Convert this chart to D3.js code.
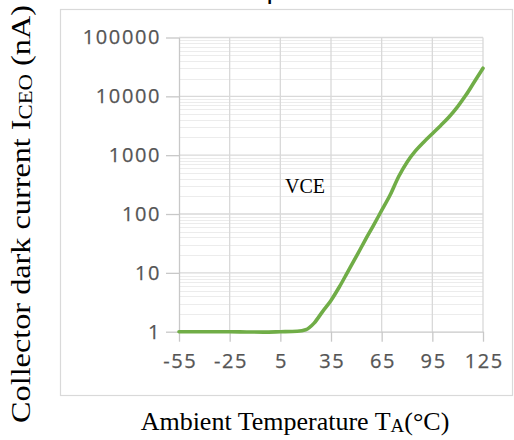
<!DOCTYPE html>
<html>
<head>
<meta charset="utf-8">
<script src="https://cdn.jsdelivr.net/npm/d3@7"></script>
<style>
  html, body { margin: 0; padding: 0; background: #fff; }
  svg { display: block; }
</style>
</head>
<body>
<script>
// Collector dark current vs ambient temperature
const temperatures = [-55, -45, -35, -25, -15, -5, 5, 15, 20, 25, 30, 35, 40, 45, 50, 55, 60, 65, 70, 75, 80, 85, 90, 95, 100, 105, 110, 115, 120, 125];
const darkCurrent  = [1, 1, 1, 1, 0.99, 0.985, 1.0, 1.02, 1.08, 1.4, 2.2, 3.4, 5.8, 10.5, 19, 35, 63, 115, 210, 430, 760, 1180, 1680, 2320, 3200, 4500, 6700, 10600, 17900, 30000];
const xTicks = [-55, -25, 5, 35, 65, 95, 125];
const yTicks = [1, 10, 100, 1000, 10000, 100000];
const curveLabel = "VCE";

const W = 514, H = 440;
const plot = { left: 179, top: 37.5, right: 483, bottom: 331.7 };

const svg = d3.select("body").append("svg")
  .attr("width", W).attr("height", H);

// chart frame
svg.append("rect")
  .attr("x", 60.5).attr("y", 9.5)
  .attr("width", 452).attr("height", 386)
  .attr("fill", "#fff").attr("stroke", "#d9d9d9").attr("stroke-width", 1.2);

// title (second line, mostly above the page edge)
svg.append("text")
  .attr("x", 285).attr("y", 0)
  .attr("text-anchor", "middle")
  .attr("font-family", "Liberation Sans, Arial, sans-serif")
  .attr("font-weight", "bold")
  .attr("font-size", 17.5)
  .attr("fill", "#000")
  .text("Temperature");

const x = d3.scaleLinear().domain([-55, 125]).range([plot.left, plot.right]);
const y = d3.scaleLog().domain([1, 100000]).range([plot.bottom, plot.top]);

const g = svg.append("g");

// minor horizontal gridlines
const minor = [];
for (let d = 0; d < 5; d++) for (let k = 2; k <= 9; k++) minor.push(k * Math.pow(10, d));
g.append("g").selectAll("line").data(minor).join("line")
  .attr("x1", plot.left).attr("x2", plot.right)
  .attr("y1", d => Math.round(y(d)) + 0.5).attr("y2", d => Math.round(y(d)) + 0.5)
  .attr("stroke", "#ececec").attr("stroke-width", 1);

// major horizontal gridlines
g.append("g").selectAll("line").data(yTicks.slice(1)).join("line")
  .attr("x1", plot.left).attr("x2", plot.right)
  .attr("y1", d => y(d)).attr("y2", d => y(d))
  .attr("stroke", "#d9d9d9").attr("stroke-width", 1.3);

// vertical gridlines
g.append("g").selectAll("line").data(xTicks.slice(1)).join("line")
  .attr("x1", d => x(d)).attr("x2", d => x(d))
  .attr("y1", plot.top).attr("y2", plot.bottom)
  .attr("stroke", "#d9d9d9").attr("stroke-width", 1.3);

// axes
const tickFont = "'Open Sans', sans-serif";
const yAxis = svg.append("g")
  .attr("transform", `translate(${plot.left},0)`)
  .call(d3.axisLeft(y).tickValues(yTicks).tickFormat(d3.format("d")).tickSize(13).tickSizeOuter(0).tickPadding(5));
const xAxis = svg.append("g")
  .attr("transform", `translate(0,${plot.bottom})`)
  .call(d3.axisBottom(x).tickValues(xTicks).tickFormat(d => String(d)).tickSize(10).tickSizeOuter(0).tickPadding(12));

[yAxis, xAxis].forEach(ax => {
  ax.select(".domain").attr("stroke", "#c8c8c8").attr("stroke-width", 1.3);
  ax.selectAll(".tick line").attr("stroke", "#c8c8c8").attr("stroke-width", 1.3);
  ax.selectAll(".tick text")
    .attr("fill", "#555")
    .attr("font-family", tickFont)
    .attr("font-size", 20)
    .attr("letter-spacing", 1.6)
    .attr("stroke", "#555").attr("stroke-width", 0.25);
});
xAxis.selectAll(".tick text").attr("dx", 0.8);

// data line
const line = d3.line()
  .x((d, i) => x(temperatures[i]))
  .y(d => y(d))
  .curve(d3.curveMonotoneX);

svg.append("path")
  .datum(darkCurrent)
  .attr("d", line)
  .attr("fill", "none")
  .attr("stroke", "#70ad47")
  .attr("stroke-width", 3.6)
  .attr("stroke-linecap", "round")
  .attr("stroke-linejoin", "round");

// curve label
const serif = "'Liberation Serif', 'Times New Roman', serif";
svg.append("text")
  .attr("x", 285).attr("y", 193)
  .attr("font-family", serif)
  .attr("font-size", 20)
  .attr("fill", "#000")
  .text(curveLabel);

// axis titles
const xTitle = svg.append("text")
  .attr("x", 295).attr("y", 430)
  .attr("text-anchor", "middle")
  .attr("font-family", serif)
  .attr("font-size", 26)
  .attr("fill", "#000");
xTitle.append("tspan").text("Ambient Temperature T");
xTitle.append("tspan").attr("font-size", 19).attr("dy", 1.5).text("A");
xTitle.append("tspan").attr("dy", -1.5).text("(°C)");

const yTitleG = svg.append("g").attr("transform", "translate(30,214) rotate(-90)");
const yTitle = yTitleG.append("text")
  .attr("text-anchor", "middle")
  .attr("font-family", serif)
  .attr("font-size", 27)
  .attr("fill", "#000");
yTitle.append("tspan").text("Collector dark current I");
yTitle.append("tspan").attr("font-size", 19).attr("dy", 1.5).text("CEO");
yTitle.append("tspan").attr("dy", -1.5).text(" (nA)");
// stretch the rotated title along its length to span the side of the frame
const yTitleSpan = 418;
const natural = yTitle.node().getComputedTextLength();
yTitle.attr("transform", `scale(${yTitleSpan / natural},1)`);
</script>
</body>
</html>
